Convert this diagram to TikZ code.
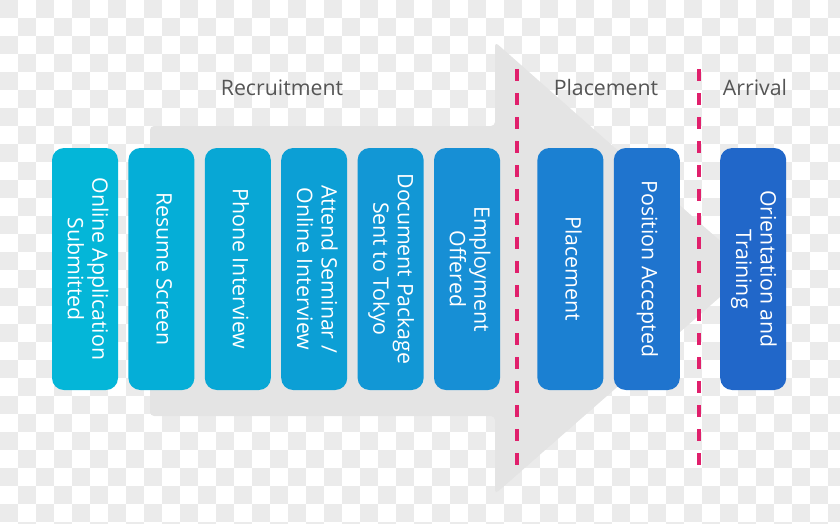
\documentclass[tikz,border=0pt]{standalone}
\usepackage{fontspec}
\setmainfont{Open Sans}
\usepackage{graphicx}
\usepackage{xcolor}
\usepackage{tikz}
\usetikzlibrary{positioning}

\definecolor{checkgrey}{HTML}{EBEBEB}
\definecolor{arrowgrey}{HTML}{E4E4E4}
\definecolor{labelgrey}{HTML}{555555}
\definecolor{cutpink}{HTML}{E0206C}
\definecolor{stepA}{HTML}{04B6D8}
\definecolor{stepB}{HTML}{05AED7}
\definecolor{stepC}{HTML}{08A7D5}
\definecolor{stepD}{HTML}{0C9FD5}
\definecolor{stepE}{HTML}{1297D5}
\definecolor{stepF}{HTML}{178FD5}
\definecolor{stepG}{HTML}{1B80D2}
\definecolor{stepH}{HTML}{1F74CE}
\definecolor{stepI}{HTML}{2167C9}

\newcommand\stepfont{\fontsize{21.3}{24.5}\selectfont}
\newcommand\downtext[1]{\rotatebox{-90}{\begin{tabular}{@{}c@{}}#1\end{tabular}}}

\begin{document}
\begin{tikzpicture}[
    x=1pt, y=-1pt, % pixel units, y runs downwards
    node distance=10pt, % gap between neighbouring steps
    % Styling for the nodes
    stepbox/.style={
        rectangle,
        rounded corners=12pt,
        fill=#1,
        text=white,
        inner sep=0pt,
        minimum width=66pt,
        minimum height=242pt,
        font=\stepfont
    },
    stageLabel/.style={text=labelgrey, font=\stepfont},
    cutLine/.style={draw=cutpink, line width=4pt, dash pattern=on 12pt off 12pt}
]

    \useasboundingbox (0,0) rectangle (840,523);

    % Checkered backdrop
    \begin{scope}
        \clip (0,0) rectangle (840,523);
        \foreach \i in {0,...,46} {
            \pgfmathtruncatemacro{\rowOff}{mod(\i,2)}
            \foreach \j in {0,2,...,28}
                \fill[checkgrey] (18*\i, {18*(\j+\rowOff)}) rectangle ++(18,18);
        }
    \end{scope}

    % Big grey arrow
    \fill[arrowgrey, rounded corners=4pt]
        (150,126) -- (495,126) -- (495,42) -- (752,269)
        -- (495,494) -- (495,416) -- (150,416) -- cycle;

    % Stage borders
    \coordinate (cutA top) at (517,69);
    \coordinate (cutA bot) at (517,466);
    \coordinate (cutB top) at (699,69);
    \coordinate (cutB bot) at (699,466);
    \draw[cutLine] (cutA top) -- (cutA bot);
    \draw[cutLine] (cutB top) -- (cutB bot);

    % Define Nodes
    \node[stepbox=stepA] (online) at (85,269) {\downtext{Online Application\\Submitted}};
    \node[stepbox=stepB] (resume) [right=of online] {\downtext{Resume Screen}};
    \node[stepbox=stepC] (phone) [right=of resume] {\downtext{Phone Interview}};
    \node[stepbox=stepD] (seminar) [right=of phone] {\downtext{Attend Seminar /\\Online Interview}};
    \node[stepbox=stepE] (docs) [right=of seminar] {\downtext{Document Package\\Sent to Tokyo}};
    \node[stepbox=stepF] (offer) [right=of docs] {\downtext{Employment\\Offered}};
    \node[stepbox=stepG] (place) [right=37pt of offer] {\downtext{Placement}};
    \node[stepbox=stepH] (accept) [right=10pt of place] {\downtext{Position Accepted}};
    \node[stepbox=stepI] (orient) [right=40pt of accept] {\downtext{Orientation and\\Training}};

    % Stage titles
    \node[stageLabel] (recruitLbl) at (282,88) {Recruitment};
    \node[stageLabel] (placeLbl) at (606,88) {Placement};
    \node[stageLabel] (arriveLbl) at (755,88) {Arrival};

\end{tikzpicture}
\end{document}
